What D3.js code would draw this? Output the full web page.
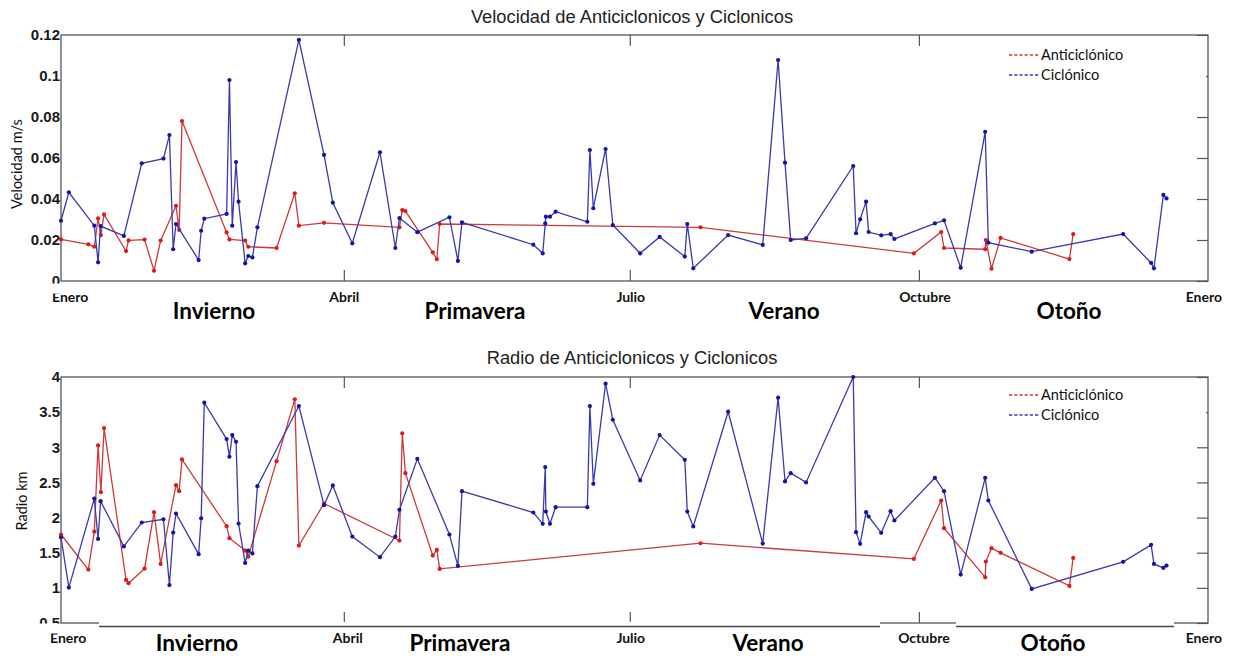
<!DOCTYPE html>
<html><head><meta charset="utf-8">
<script src="https://cdn.jsdelivr.net/npm/d3@7"></script>
<style>body{margin:0;background:#fff}svg{display:block}</style>
</head><body><svg id="c" width="1233" height="656"></svg>
<script>
// ---------------- data ----------------
const monthNames = ["Enero", "Abril", "Julio", "Octubre", "Enero"];
const monthDays = [0, 90, 181, 273, 365];
const seasonNames = ["Invierno", "Primavera", "Verano", "Otoño"];
const legendNames = ["Anticiclónico", "Ciclónico"];
const velTicks = [0, 0.02, 0.04, 0.06, 0.08, 0.1, 0.12];
const radTicks = [0.5, 1, 1.5, 2, 2.5, 3, 3.5, 4];

// Ciclónico (day of year)
const cycDays = [0,2.5,10.6,11.8,12.6,20,25.7,32.6,34.5,35.7,
  36.6,43.8,44.6,45.6,52.7,53.6,54.5,55.7,56.5,58.6,
  59.6,60.9,62.5,75.7,83.7,86.5,92.7,101.5,106.4,107.7,
  113.4,123.6,126.3,127.6,150.3,153.3,154.1,154.3,155.6,157.4,
  167.5,168.3,169.4,173.3,175.6,184.3,190.5,198.5,199.3,201.2,
  212.3,223.3,228.2,230.4,232.2,237.1,252.1,253,254.3,256.2,
  257,261,264,265.2,278.1,281,286.3,294.1,295.1,308.9,
  338,346.9,347.8,350.8,351.8];
const cycVel = [0.0294,0.0433,0.027,0.0091,0.0268,0.022,0.0574,0.0597,0.0712,0.0155,
  0.0278,0.0102,0.0245,0.0304,0.0327,0.098,0.027,0.058,0.0387,0.0086,
  0.0122,0.0115,0.0262,0.1176,0.0615,0.0382,0.0184,0.0628,0.0161,0.0307,
  0.0238,0.0311,0.0098,0.0286,0.0177,0.0135,0.0281,0.0314,0.0314,0.0338,
  0.0289,0.0639,0.0355,0.0644,0.0273,0.0135,0.0215,0.0119,0.0278,0.0062,
  0.0224,0.0176,0.1078,0.0577,0.02,0.0208,0.0561,0.0233,0.0301,0.0387,
  0.0239,0.0223,0.0229,0.0205,0.0281,0.0296,0.0065,0.0728,0.0187,0.0143,
  0.0229,0.0088,0.0062,0.042,0.0403];
const cycRad = [1.72,1.004,2.27,1.696,2.233,1.59,1.93,1.976,1.04,1.787,
  2.058,1.479,1.99,3.634,3.117,2.865,3.174,3.079,1.915,1.355,
  1.53,1.49,2.447,3.587,2.177,2.457,1.73,1.436,1.73,2.11,
  2.837,1.759,1.312,2.376,2.072,1.911,2.718,2.086,1.911,2.148,
  2.148,3.587,2.48,3.905,3.392,2.528,3.174,2.822,2.086,1.873,
  3.506,1.63,3.706,2.514,2.632,2.5,4.0,1.792,1.626,2.077,
  2.015,1.783,2.091,1.958,2.566,2.376,1.189,2.566,2.243,0.985,
  1.37,1.612,1.34,1.284,1.317];

// Anticiclónico (day of year)
const antiDays = [0,8.7,10.6,11.8,12.7,13.7,20.7,21.5,26.6,29.6,
  31.7,36.6,37.6,38.5,52.7,53.6,58.6,59.6,68.6,74.4,
  75.7,83.7,107.7,108.6,109.6,118.3,119.6,120.5,203.5,271.4,
  280.1,281,294.1,294.3,296.1,299,320.9,322.1];
const antiVel = [0.0203,0.0179,0.0167,0.0306,0.0224,0.0325,0.0146,0.0198,0.0202,0.005,
  0.0197,0.0367,0.0249,0.078,0.0237,0.0203,0.0197,0.0167,0.0161,0.0428,
  0.027,0.0284,0.0262,0.0346,0.0341,0.014,0.0106,0.0278,0.0262,0.0135,
  0.0239,0.0161,0.0155,0.02,0.006,0.021,0.0107,0.0229];
const antiRad = [1.759,1.26,1.8,3.027,2.362,3.273,1.113,1.066,1.274,2.077,
  1.341,2.461,2.376,2.827,1.877,1.707,1.531,1.445,2.803,3.682,
  1.602,2.2,1.673,3.2,2.632,1.46,1.54,1.27,1.635,1.412,
  2.243,1.849,1.15,1.374,1.564,1.498,1.028,1.426];

// ---------------- layout ----------------
const svg = d3.select("#c");
const X0 = 61, X1 = 1208;
const x = d3.scaleLinear().domain([0, 365]).range([X0, X1]);

const RED = "#cc3a3a", RED_M = "#e01818";
const BLUE = "#3a3aae", BLUE_M = "#1414a6";
const FRAME = "#555";

const panels = [
  { title: "Velocidad de Anticiclonicos y Ciclonicos", ylabel: "Velocidad m/s",
    top: 35, bottom: 281, domain: [0, 0.12], ticks: velTicks,
    anti: antiVel, cyc: cycVel,
    titleY: 23, monthY: 302, seasonY: 319, seasonX: [214, 475, 784, 1069],
    monthDx: [0, 0.5, 1, 6, 0], firstX: 52, lastX: 1222,
    ylabX: 18, ylabY: 164, legY: 55, legBox: [1000, 40, 206, 48],
    cut: [0, 283.5, 60, 10] },
  { title: "Radio de Anticiclonicos y Ciclonicos", ylabel: "Radio km",
    top: 377, bottom: 623, domain: [0.5, 4], ticks: radTicks,
    anti: antiRad, cyc: cycRad,
    titleY: 364, monthY: 643, seasonY: 651, seasonX: [197, 460, 768, 1053],
    monthDx: [0, 4, 1, 5, 0], firstX: 50, lastX: 1222,
    ylabX: 23, ylabY: 501, legY: 395, legBox: [1000, 382, 206, 38],
    cut: [0, 623.5, 60, 10] }
];

panels.forEach(p => {
  const y = d3.scaleLinear().domain(p.domain).range([p.bottom, p.top]);
  const g = svg.append("g");

  // inner ticks: right side (values), top/bottom (months)
  const rAx = g.append("g").attr("transform", `translate(${X1},0)`)
    .call(d3.axisRight(y).tickValues(p.ticks).tickSizeInner(-11).tickSizeOuter(0).tickFormat(""));
  rAx.select(".domain").remove();
  rAx.selectAll("line").attr("stroke", FRAME).attr("stroke-width", 1.2);

  const mid = monthDays.slice(1, 4);
  const bAx = g.append("g").attr("transform", `translate(0,${p.bottom})`)
    .call(d3.axisBottom(x).tickValues(mid).tickSizeInner(-11).tickSizeOuter(0).tickFormat(""));
  const tAx = g.append("g").attr("transform", `translate(0,${p.top})`)
    .call(d3.axisTop(x).tickValues(mid).tickSizeInner(-11).tickSizeOuter(0).tickFormat(""));
  [bAx, tAx].forEach(a => { a.select(".domain").remove(); a.selectAll("line").attr("stroke", FRAME).attr("stroke-width", 1.2); });

  // frame
  g.append("rect").attr("x", X0).attr("y", p.top).attr("width", X1 - X0).attr("height", p.bottom - p.top)
    .attr("fill", "none").attr("stroke", FRAME).attr("stroke-width", 1.3);

  // left tick labels
  const lAx = g.append("g").attr("transform", `translate(${X0 - 1},0)`)
    .call(d3.axisLeft(y).tickValues(p.ticks).tickSize(0).tickPadding(0).tickFormat(d => String(d)));
  lAx.select(".domain").remove();
  lAx.selectAll("text").attr("font-family", "Liberation Sans, Arial, sans-serif")
    .attr("font-weight", "bold").attr("font-size", 15).attr("fill", "#1a1a1a");

  // series
  const series = [
    { days: antiDays, vals: p.anti, line: RED, mark: RED_M },
    { days: cycDays, vals: p.cyc, line: BLUE, mark: BLUE_M }
  ];
  series.forEach(s => {
    const pts = s.days.map((d, i) => [d, s.vals[i]]);
    g.append("path").datum(pts)
      .attr("d", d3.line().x(d => x(d[0])).y(d => y(d[1])))
      .attr("fill", "none").attr("stroke", s.line).attr("stroke-width", 1.3);
    g.append("g").selectAll("circle").data(pts).join("circle")
      .attr("cx", d => x(d[0])).attr("cy", d => y(d[1])).attr("r", 2.1).attr("fill", s.mark);
  });

  // legend
  const lb = p.legBox;
  g.append("rect").attr("x", lb[0]).attr("y", lb[1]).attr("width", lb[2]).attr("height", lb[3]).attr("fill", "#fff");
  [RED, BLUE].forEach((c, i) => {
    const ly = p.legY + i * 20;
    g.append("line").attr("x1", 1009).attr("x2", 1040).attr("y1", ly).attr("y2", ly)
      .attr("stroke", c).attr("stroke-width", 1.3).attr("stroke-dasharray", "3.2,2");
    g.append("text").attr("x", 1041).attr("y", ly + 5).text(legendNames[i])
      .attr("font-family", "Lato, sans-serif").attr("font-size", 14.5).attr("fill", "#111");
  });

  // title
  g.append("text").attr("x", 632).attr("y", p.titleY).attr("text-anchor", "middle").text(p.title)
    .attr("font-family", "Liberation Sans, Arial, sans-serif").attr("font-size", 18.3).attr("fill", "#222");

  // y label
  g.append("text").attr("transform", `translate(${p.ylabX},${p.ylabY}) rotate(-90)`)
    .attr("text-anchor", "middle").attr("dominant-baseline", "middle").text(p.ylabel)
    .attr("font-family", "Lato, sans-serif").attr("font-size", 14.5).attr("fill", "#111");

  // month labels
  monthNames.forEach((m, i) => {
    let tx = x(monthDays[i]) + p.monthDx[i], anchor = "middle";
    if (i === 0) { tx = p.firstX; anchor = "start"; }
    if (i === monthNames.length - 1) { tx = p.lastX; anchor = "end"; }
    g.append("text").attr("x", tx).attr("y", p.monthY).attr("text-anchor", anchor).text(m)
      .attr("font-family", "Lato, sans-serif").attr("font-weight", "bold").attr("font-size", 14).attr("fill", "#111");
  });

  // season labels
  seasonNames.forEach((s, i) => {
    g.append("text").attr("x", p.seasonX[i]).attr("y", p.seasonY).attr("text-anchor", "middle").text(s)
      .attr("font-family", "Lato, sans-serif").attr("font-weight", "bold").attr("font-size", 22.5).attr("fill", "#000");
  });

  // pasted label strip (cuts lowest tick label)
  g.append("rect").attr("x", p.cut[0]).attr("y", p.cut[1]).attr("width", p.cut[2]).attr("height", p.cut[3]).attr("fill", "#fff");
});

// bottom strip of second panel: its border line is shifted a little lower in places
const segs = [[99, 880], [956, 1174]];
segs.forEach(s => {
  svg.append("rect").attr("x", s[0]).attr("y", 622).attr("width", s[1] - s[0]).attr("height", 3).attr("fill", "#fff");
  svg.append("line").attr("x1", s[0]).attr("x2", s[1]).attr("y1", 626.5).attr("y2", 626.5)
    .attr("stroke", "#444").attr("stroke-width", 1.3);
});
</script></body></html>
